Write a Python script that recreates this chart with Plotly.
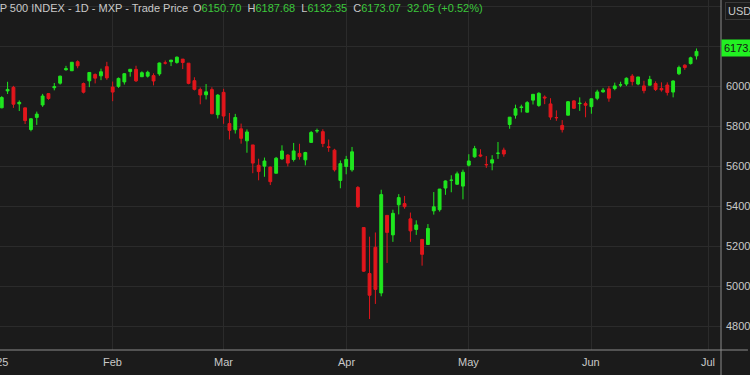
import plotly.graph_objects as go

# ---------------- data (S&P 500 daily) ----------------
dates = [
    "2025-01-02", "2025-01-03", "2025-01-06", "2025-01-07", "2025-01-08", "2025-01-10",
    "2025-01-13", "2025-01-14", "2025-01-15", "2025-01-16", "2025-01-17", "2025-01-21",
    "2025-01-22", "2025-01-23", "2025-01-24", "2025-01-27", "2025-01-28", "2025-01-29",
    "2025-01-30", "2025-01-31",
    "2025-02-03", "2025-02-04", "2025-02-05", "2025-02-06", "2025-02-07", "2025-02-10",
    "2025-02-11", "2025-02-12", "2025-02-13", "2025-02-14", "2025-02-18", "2025-02-19",
    "2025-02-20", "2025-02-21", "2025-02-24", "2025-02-25", "2025-02-26", "2025-02-27",
    "2025-02-28",
    "2025-03-03", "2025-03-04", "2025-03-05", "2025-03-06", "2025-03-07", "2025-03-10",
    "2025-03-11", "2025-03-12", "2025-03-13", "2025-03-14", "2025-03-17", "2025-03-18",
    "2025-03-19", "2025-03-20", "2025-03-21", "2025-03-24", "2025-03-25", "2025-03-26",
    "2025-03-27", "2025-03-28", "2025-03-31",
    "2025-04-01", "2025-04-02", "2025-04-03", "2025-04-04", "2025-04-07", "2025-04-08",
    "2025-04-09", "2025-04-10", "2025-04-11", "2025-04-14", "2025-04-15", "2025-04-16",
    "2025-04-17", "2025-04-21", "2025-04-22", "2025-04-23", "2025-04-24", "2025-04-25",
    "2025-04-28", "2025-04-29", "2025-04-30",
    "2025-05-01", "2025-05-02", "2025-05-05", "2025-05-06", "2025-05-07", "2025-05-08",
    "2025-05-09", "2025-05-12", "2025-05-13", "2025-05-14", "2025-05-15", "2025-05-16",
    "2025-05-19", "2025-05-20", "2025-05-21", "2025-05-22", "2025-05-23", "2025-05-27",
    "2025-05-28", "2025-05-29", "2025-05-30",
    "2025-06-02", "2025-06-03", "2025-06-04", "2025-06-05", "2025-06-06", "2025-06-09",
    "2025-06-10", "2025-06-11", "2025-06-12", "2025-06-13", "2025-06-16", "2025-06-17",
    "2025-06-18", "2025-06-20", "2025-06-23", "2025-06-24", "2025-06-25", "2025-06-26",
    "2025-06-27",
]

opens = [
    5903.26, 5891.07, 5982.81, 5993.26, 5910.66, 5890.66, 5782.48, 5859.43, 5905.21, 5961.95,
    5991.50, 6014.12, 6081.39, 6076.32, 6121.43, 5969.04, 6026.01, 6057.70, 6050.75, 6096.79,
    5969.65, 5998.14, 6020.45, 6072.22, 6083.13, 6046.40, 6049.32, 6025.08, 6060.59, 6115.52,
    6121.60, 6117.76, 6134.50, 6114.10, 6026.69, 5982.73, 5970.87, 5981.88, 5856.74,
    5968.33, 5811.98, 5781.41, 5785.87, 5726.01, 5705.37, 5603.65, 5624.84, 5594.45, 5563.85,
    5635.60, 5654.53, 5632.37, 5646.92, 5630.73, 5718.08, 5775.14, 5771.66, 5695.64, 5679.29,
    5527.91,
    5597.53, 5580.76, 5492.74, 5292.14, 4953.79, 5193.57, 4965.28, 5353.15, 5255.56, 5441.96,
    5411.99, 5335.75, 5305.45, 5232.94, 5207.67, 5395.92, 5381.38, 5489.73, 5529.22, 5508.87,
    5499.44,
    5625.14, 5645.77, 5655.32, 5605.88, 5614.63, 5663.49, 5679.49, 5807.44, 5854.16, 5895.58,
    5869.13, 5929.33, 5902.88, 5944.66, 5910.46, 5841.26, 5781.89, 5854.07, 5925.56, 5914.56,
    5903.67,
    5896.68, 5938.56, 5978.94, 5985.67, 5987.06, 6004.60, 6009.91, 6049.38, 6009.90, 6000.56,
    6004.00, 6012.15, 5987.93, 6004.64, 5969.67, 6061.21, 6104.21, 6112.10, 6150.70,
]

highs = [
    5935.09, 5949.34, 6021.04, 6000.68, 5927.89, 5890.66, 5838.48, 5871.92, 5960.61, 5964.69,
    6014.96, 6051.51, 6100.81, 6118.73, 6128.18, 6017.17, 6069.39, 6062.83, 6086.64, 6120.91,
    6022.13, 6042.48, 6062.86, 6084.03, 6101.28, 6073.38, 6076.28, 6063.50, 6116.91, 6127.47,
    6129.63, 6147.43, 6134.50, 6114.82, 6043.65, 5992.65, 6009.82, 5993.69, 5959.40,
    5986.09, 5865.08, 5860.59, 5812.08, 5783.01, 5705.37, 5636.30, 5642.19, 5597.78, 5645.27,
    5703.52, 5659.42, 5715.33, 5711.15, 5670.84, 5775.14, 5786.95, 5783.62, 5732.28, 5685.89,
    5627.56,
    5650.57, 5695.31, 5499.53, 5292.14, 5246.57, 5267.47, 5481.34, 5353.15, 5381.46, 5459.46,
    5450.41, 5367.24, 5328.31, 5232.94, 5309.60, 5469.69, 5484.77, 5528.11, 5553.66, 5571.95,
    5581.84,
    5658.91, 5700.70, 5683.59, 5649.54, 5654.16, 5720.10, 5691.66, 5845.02, 5906.63, 5906.52,
    5924.52, 5958.62, 5968.61, 5953.06, 5939.04, 5878.08, 5829.51, 5924.33, 5929.00, 5943.13,
    5922.14,
    5937.40, 5981.35, 5990.48, 5999.70, 6016.87, 6021.31, 6043.01, 6059.40, 6045.43, 6026.16,
    6050.83, 6023.25, 6018.25, 6018.20, 6028.28, 6101.80, 6108.51, 6146.52, 6187.68,
]

lows = [
    5829.53, 5888.66, 5960.01, 5890.68, 5874.78, 5809.83, 5773.31, 5805.52, 5895.68, 5930.89,
    5978.40, 6006.88, 6076.43, 6074.67, 6088.74, 5962.92, 5994.34, 6012.96, 6029.35, 6030.93,
    5923.93, 5990.87, 6007.06, 6046.83, 6019.96, 6044.84, 6042.34, 6003.00, 6051.00, 6107.62,
    6099.51, 6111.15, 6084.59, 6008.56, 5977.83, 5908.49, 5932.69, 5858.78, 5837.66,
    5810.91, 5732.59, 5762.24, 5711.64, 5666.29, 5564.02, 5528.41, 5546.09, 5504.65, 5563.85,
    5631.12, 5597.76, 5622.20, 5632.12, 5603.10, 5718.08, 5764.53, 5694.41, 5670.94, 5572.42,
    5488.73,
    5558.52, 5571.48, 5390.83, 5069.90, 4835.04, 4910.42, 4948.43, 5115.27, 5220.77, 5358.02,
    5386.44, 5220.79, 5255.58, 5101.63, 5207.67, 5356.94, 5371.96, 5455.86, 5468.64, 5505.70,
    5433.24,
    5597.35, 5641.58, 5644.10, 5590.59, 5578.64, 5635.73, 5646.14, 5786.08, 5836.73, 5867.98,
    5867.36, 5907.52, 5895.69, 5909.26, 5830.94, 5825.82, 5767.41, 5854.07, 5886.61, 5875.61,
    5843.66,
    5861.43, 5929.00, 5966.11, 5921.20, 5978.63, 5994.18, 6000.26, 6002.32, 6003.88, 5963.21,
    6004.00, 5974.80, 5971.89, 5952.56, 5943.23, 6054.59, 6080.99, 6107.34, 6132.35,
]

closes = [
    5868.55, 5942.47, 5975.38, 5909.03, 5918.25, 5827.04, 5836.22, 5842.91, 5949.91, 5937.34,
    5996.66, 6049.24, 6086.37, 6118.71, 6101.24, 6012.28, 6067.70, 6039.31, 6071.17, 6040.53,
    5994.57, 6037.88, 6061.48, 6083.57, 6025.99, 6066.44, 6068.50, 6051.97, 6115.07, 6114.63,
    6129.58, 6144.15, 6117.52, 6013.13, 5983.25, 5955.25, 5956.06, 5861.57, 5954.50,
    5849.72, 5778.15, 5842.63, 5738.52, 5770.20, 5614.56, 5572.07, 5599.30, 5521.52, 5638.94,
    5675.12, 5614.66, 5675.29, 5662.89, 5667.56, 5767.57, 5776.65, 5712.20, 5693.31, 5580.94,
    5611.85,
    5633.07, 5670.97, 5396.52, 5074.08, 5062.25, 4982.77, 5456.90, 5268.05, 5363.36, 5405.97,
    5396.63, 5275.70, 5282.70, 5158.20, 5287.76, 5375.86, 5484.77, 5525.21, 5528.75, 5560.83,
    5569.06,
    5604.14, 5686.67, 5650.38, 5606.91, 5631.28, 5663.94, 5659.91, 5844.19, 5886.55, 5892.58,
    5916.93, 5958.38, 5963.60, 5940.46, 5844.61, 5842.01, 5802.82, 5921.54, 5888.55, 5912.17,
    5911.69,
    5935.94, 5970.37, 5970.81, 5939.30, 6000.36, 6005.88, 6038.81, 6022.24, 6045.26, 5976.97,
    6033.11, 5982.72, 5980.87, 5967.84, 6025.17, 6092.18, 6092.16, 6141.02, 6173.07,
]

PREV_CLOSE = 5881.63  # close of the session before the first one shown
FUTURE_SESSIONS = ["2025-06-30", "2025-07-01", "2025-07-02", "2025-07-03"]
MONTH_LABELS = {"01": "2025", "02": "Feb", "03": "Mar", "04": "Apr",
                "05": "May", "06": "Jun", "07": "Jul"}
Y_TICKS = [4800, 5000, 5200, 5400, 5600, 5800, 6000, 6200, 6400]

TITLE = "S&P 500 INDEX - 1D - MXP - Trade Price"
CURRENCY = "USD"

# ---------------- styling ----------------
BG = "#1b1b1b"
GRID = "#2b2b2b"
UP = "#1fe61f"
DOWN = "#e2161c"
TXT = "#c9c9c9"
AXISLINE = "#8c8c8c"
FONT = "Liberation Sans, Arial, sans-serif"

X_RANGE = [0.70, 124.2]
Y_RANGE = [4680, 6430]

W, H = 750, 375
ML, MR, MT, MB = 0, 27, 0, 25

# ---------------- derived ----------------
n = len(dates)
idx = list(range(n))
prev = [PREV_CLOSE] + closes[:-1]
up_i = [i for i in idx if closes[i] >= prev[i]]
dn_i = [i for i in idx if closes[i] < prev[i]]

sessions = dates + FUTURE_SESSIONS
tickvals, ticktext = [], []
for i, d in enumerate(sessions):
    if i == 0 or d[5:7] != sessions[i - 1][5:7]:
        tickvals.append(i)
        ticktext.append(MONTH_LABELS[d[5:7]])


def candles(sel, color):
    return go.Candlestick(
        x=[idx[i] for i in sel],
        open=[opens[i] for i in sel],
        high=[highs[i] for i in sel],
        low=[lows[i] for i in sel],
        close=[closes[i] for i in sel],
        increasing=dict(line=dict(color=color, width=1), fillcolor=color),
        decreasing=dict(line=dict(color=color, width=1), fillcolor=color),
        whiskerwidth=0,
        showlegend=False,
        hoverinfo="skip",
    )


fig = go.Figure([candles(up_i, UP), candles(dn_i, DOWN)])

plot_w = W - ML - MR
plot_h = H - MT - MB


def px_x(p):
    return (p - ML) / plot_w


def px_y(p):
    return 1 - (p - MT) / plot_h


def idx_to_paper(v):
    return (v - X_RANGE[0]) / (X_RANGE[1] - X_RANGE[0])


# tick labels drawn as annotations so the partially clipped first one shows
annotations = []
for v, t in zip(tickvals, ticktext):
    annotations.append(dict(
        x=idx_to_paper(v), xref="paper", y=px_y(362), yref="paper",
        text=t, showarrow=False, xanchor="center", yanchor="middle",
        font=dict(family=FONT, size=11, color=TXT),
    ))

last_o, last_h, last_l, last_c = opens[-1], highs[-1], lows[-1], closes[-1]
chg = last_c - prev[-1]
pct = chg / prev[-1] * 100
gsp = "<span style='color:#3cc83c'>%s</span>"
ohlc = ("O" + gsp % f"{last_o:.2f}" + "  H" + gsp % f"{last_h:.2f}" +
        "  L" + gsp % f"{last_l:.2f}" + "  C" + gsp % f"{last_c:.2f}" +
        "  " + gsp % f"{chg:.2f} ({pct:+.2f}%)")

annotations += [
    dict(x=px_x(-17), xref="paper", y=px_y(8.5), yref="paper", text=TITLE,
         showarrow=False, xanchor="left", yanchor="middle",
         font=dict(family=FONT, size=11, color=TXT)),
    dict(x=px_x(192), xref="paper", y=px_y(8.5), yref="paper", text=ohlc,
         showarrow=False, xanchor="left", yanchor="middle",
         font=dict(family=FONT, size=11, color=TXT)),
    dict(x=px_x(727), xref="paper", y=px_y(11.5), yref="paper", text=CURRENCY,
         showarrow=False, xanchor="left", yanchor="middle",
         font=dict(family=FONT, size=11, color=TXT),
         bgcolor=BG, bordercolor="#3a3a3a", borderwidth=1, borderpad=2),
    dict(x=px_x(723), xref="paper", y=last_c, yref="y", yshift=3,
         text=f"{last_c:.2f}", showarrow=False, xanchor="left", yanchor="middle",
         font=dict(family=FONT, size=11, color="#151515"),
         bgcolor="#22f022", borderpad=2),
]

shapes = [
    dict(type="line", xref="paper", yref="paper", x0=1, x1=1, y0=px_y(H), y1=1,
         line=dict(color=AXISLINE, width=1)),
    dict(type="line", xref="paper", yref="paper", x0=0, x1=px_x(W), y0=0, y1=0,
         line=dict(color=AXISLINE, width=1)),
]

fig.update_layout(
    width=W, height=H,
    margin=dict(l=ML, r=MR, t=MT, b=MB),
    paper_bgcolor=BG, plot_bgcolor=BG,
    font=dict(family=FONT, size=11, color=TXT),
    showlegend=False,
    xaxis=dict(range=X_RANGE, tickvals=tickvals, showticklabels=False,
               showgrid=True, gridcolor=GRID, gridwidth=1, zeroline=False,
               showline=False, ticks="", rangeslider=dict(visible=False),
               fixedrange=True),
    yaxis=dict(range=Y_RANGE, side="right", tickvals=Y_TICKS,
               ticktext=[str(v) for v in Y_TICKS],
               tickfont=dict(family=FONT, size=11, color=TXT),
               showgrid=True, gridcolor=GRID, gridwidth=1, zeroline=False,
               showline=False, ticks="", ticklabelstandoff=4, fixedrange=True),
    annotations=annotations,
    shapes=shapes,
)

fig.write_html("out.html")
